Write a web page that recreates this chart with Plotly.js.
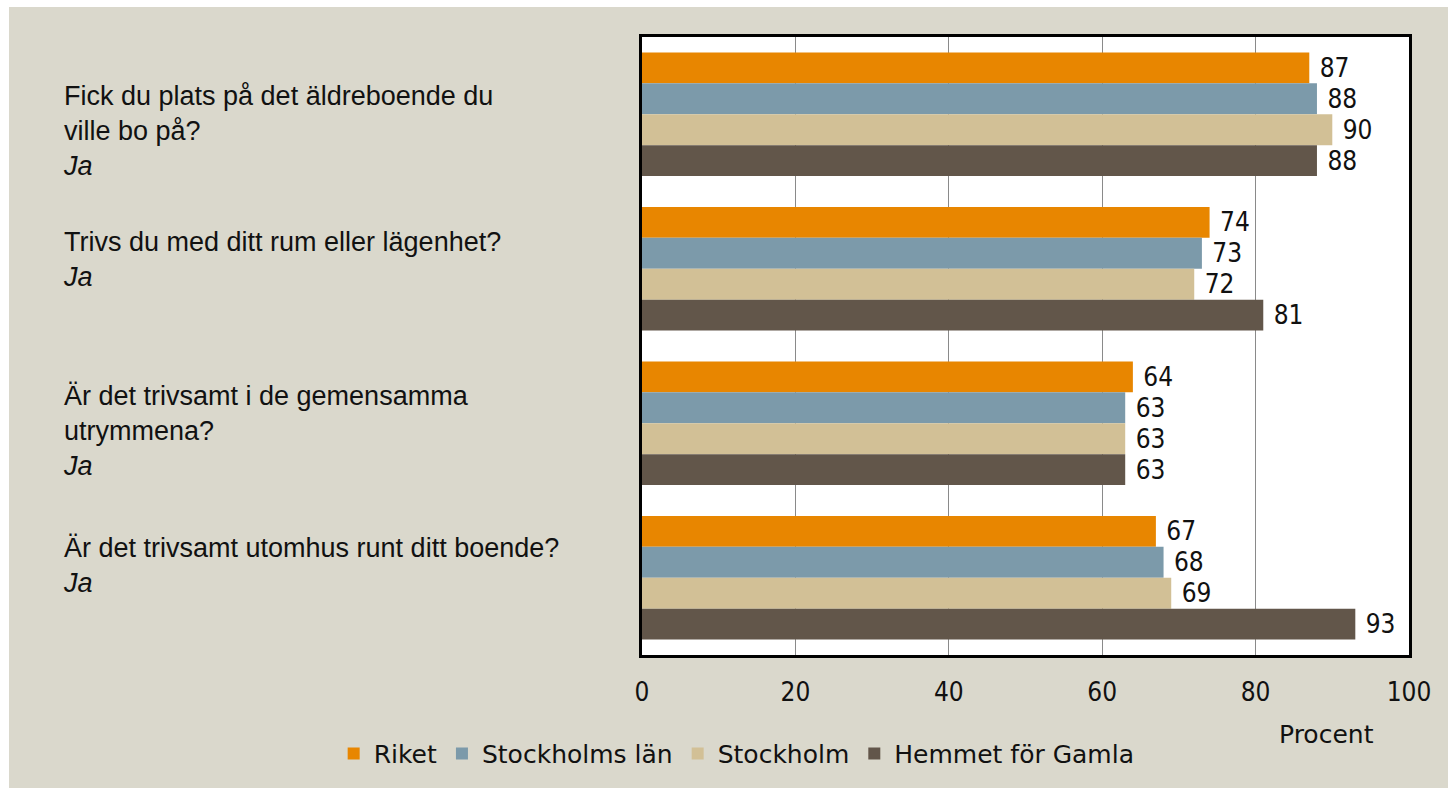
<!DOCTYPE html>
<html>
<head>
<meta charset="utf-8">
<script src="https://cdn.plot.ly/plotly-3.0.1.min.js"></script>
<style>
  html, body { margin: 0; padding: 0; background: #ffffff; }
  #chart { position: absolute; left: 9px; top: 7px; width: 1439px; height: 781px; }
</style>
</head>
<body>
<div id="chart"></div>
<script>
// ---- data ----
const categories = ["Q1", "Q2", "Q3", "Q4"];
const questionTexts = [
  "Fick du plats på det äldreboende du<br>ville bo på?<br><i>Ja</i>",
  "Trivs du med ditt rum eller lägenhet?<br><i>Ja</i>",
  "Är det trivsamt i de gemensamma<br>utrymmena?<br><i>Ja</i>",
  "Är det trivsamt utomhus runt ditt boende?<br><i>Ja</i>"
];
const seriesNames = ["Riket", "Stockholms län", "Stockholm", "Hemmet för Gamla"];
const riket = [87, 74, 64, 67];
const stockholmsLan = [88, 73, 63, 68];
const stockholm = [90, 72, 63, 69];
const hemmet = [88, 81, 63, 93];
const xTickVals = [0, 20, 40, 60, 80, 100];
const xTickText = ["0", "20", "40", "60", "80", "100"];
const axisTitle = "Procent";

// ---- style ----
const colors = ["#e88600", "#7c9aaa", "#d2c096", "#62564a"];
const narrow = "'DejaVu Sans Condensed', 'Liberation Sans Narrow', sans-serif";
const wide = "'DejaVu Sans', 'Liberation Sans', sans-serif";
const arial = "'Liberation Sans', Arial, sans-serif";
const seriesValues = [riket, stockholmsLan, stockholm, hemmet];

const traces = seriesValues.map((vals, i) => ({
  type: "bar",
  orientation: "h",
  name: seriesNames[i],
  y: categories,
  x: vals,
  marker: { color: colors[i], line: { width: 0 } },
  texttemplate: "\u00a0%{x}",
  textposition: "outside",
  constraintext: "none",
  cliponaxis: false,
  textfont: { family: narrow, size: 26, color: "#111111" },
  hoverinfo: "skip"
}));

const qShifts = [35, 44, 44, 47];
const annotations = categories.map((c, i) => ({
  xref: "paper", yref: "y",
  x: -0.7575, y: c,
  xanchor: "left", yanchor: "top",
  yshift: qShifts[i],
  align: "left",
  showarrow: false,
  text: questionTexts[i],
  font: { family: arial, size: 27, color: "#111111" }
}));
annotations.push({
  xref: "paper", yref: "paper",
  x: 0.892, y: -0.129,
  xanchor: "center", yanchor: "middle",
  showarrow: false,
  text: axisTitle,
  font: { family: wide, size: 25, color: "#111111" }
});

const layout = {
  width: 1439,
  height: 781,
  margin: { l: 633, r: 39, t: 30, b: 132, pad: 0 },
  paper_bgcolor: "#dad8cc",
  plot_bgcolor: "#ffffff",
  barmode: "group",
  bargap: 0.2,
  bargroupgap: 0,
  showlegend: true,
  legend: {
    orientation: "h",
    x: -0.402, xanchor: "left",
    y: -0.158, yanchor: "middle",
    font: { family: wide, size: 25, color: "#111111" },
    bgcolor: "rgba(0,0,0,0)",
    traceorder: "normal",
    itemclick: false
  },
  xaxis: {
    range: [0, 100],
    tickvals: xTickVals,
    ticktext: xTickText,
    ticks: "",
    ticklabelstandoff: 12,
    tickfont: { family: narrow, size: 26, color: "#111111" },
    showgrid: true,
    gridcolor: "#8a8a8a",
    gridwidth: 1,
    zeroline: false,
    showline: true,
    linecolor: "#000000",
    linewidth: 3,
    mirror: true,
    fixedrange: true
  },
  yaxis: {
    type: "category",
    autorange: "reversed",
    showticklabels: false,
    ticks: "",
    showgrid: false,
    zeroline: false,
    showline: true,
    linecolor: "#000000",
    linewidth: 3,
    mirror: true,
    fixedrange: true
  },
  annotations: annotations,
  hovermode: false
};

Plotly.newPlot("chart", traces, layout, { displayModeBar: false, staticPlot: true });
</script>
</body>
</html>
